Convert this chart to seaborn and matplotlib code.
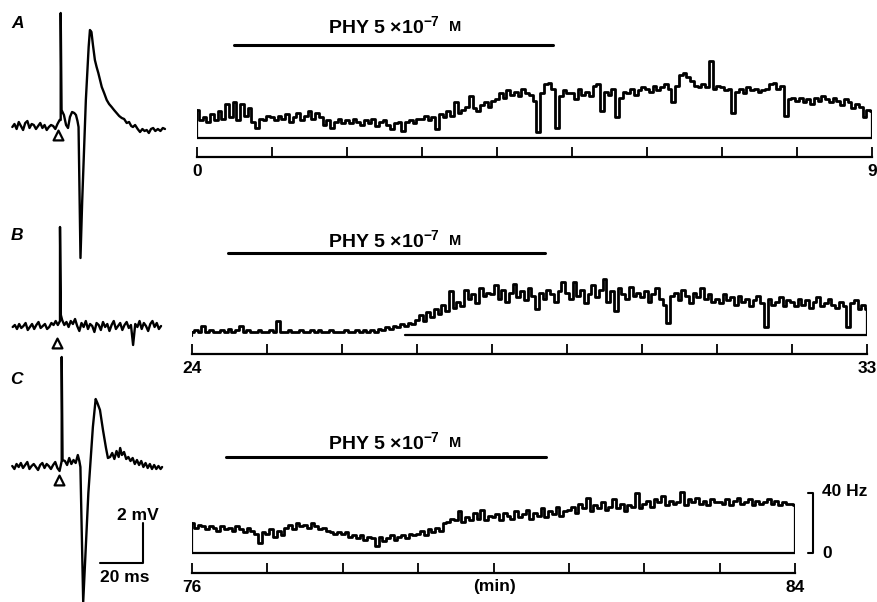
import numpy as np
import matplotlib
matplotlib.use("Agg")
import matplotlib.pyplot as plt
import seaborn as sns

# ---- data ----
# firing rate (Hz), one value every 0.05 min
rate_step = 0.05
rate_a_start = 0
rate_a = [19, 12, 14, 11, 16, 12, 18, 13, 23, 14, 24, 12, 23, 15, 20, 11, 7, 13, 12, 15,
          14, 12, 15, 13, 16, 11, 14, 17, 12, 15, 18, 13, 17, 14, 9, 12, 7, 11, 13, 10,
          12, 10, 13, 11, 9, 12, 10, 13, 8, 11, 12, 9, 6, 10, 11, 5, 11, 12, 10, 13,
          13, 15, 12, 14, 6, 16, 14, 18, 15, 24, 17, 19, 21, 28, 20, 18, 22, 24, 21, 25,
          26, 30, 27, 32, 29, 31, 28, 33, 30, 29, 25, 4, 30, 36, 37, 33, 7, 28, 32, 30,
          30, 26, 33, 29, 31, 28, 35, 36, 18, 31, 29, 33, 14, 27, 31, 30, 33, 29, 32, 34,
          33, 31, 35, 32, 34, 36, 33, 24, 35, 42, 43, 41, 38, 35, 34, 36, 34, 51, 33, 35,
          34, 32, 33, 17, 31, 33, 30, 34, 32, 33, 31, 32, 33, 36, 37, 33, 35, 15, 26, 27,
          25, 27, 24, 26, 23, 27, 25, 28, 26, 24, 27, 25, 22, 26, 24, 20, 23, 21, 14, 19, 18]
rate_b_start = 24
rate_b = [2, 3, 2, 6, 2, 3, 2, 2, 3, 2, 4, 2, 3, 6, 2, 3, 2, 2, 3, 2,
          2, 3, 2, 9, 2, 2, 3, 2, 2, 3, 2, 2, 3, 2, 3, 2, 2, 3, 2, 2,
          2, 3, 2, 2, 3, 2, 3, 2, 3, 2, 4, 3, 5, 4, 6, 5, 7, 6, 8, 7,
          10, 13, 9, 15, 12, 17, 14, 20, 16, 29, 18, 22, 19, 30, 24, 27, 21, 31, 26, 28,
          27, 33, 24, 30, 22, 28, 34, 25, 29, 23, 31, 26, 17, 28, 24, 30, 27, 22, 29, 35,
          28, 24, 35, 26, 30, 21, 27, 33, 25, 30, 37, 22, 29, 16, 31, 27, 24, 32, 26, 28,
          25, 29, 22, 27, 31, 24, 20, 8, 26, 28, 23, 30, 26, 21, 28, 25, 31, 24, 27, 22,
          24, 21, 27, 23, 25, 20, 26, 22, 24, 19, 23, 26, 21, 5, 24, 20, 22, 25, 19, 23,
          22, 19, 24, 20, 23, 18, 22, 25, 19, 21, 24, 20, 18, 22, 19, 5, 21, 23, 17, 20, 17]
rate_c_start = 76
rate_c = [20, 17, 19, 18, 16, 18, 17, 15, 18, 16, 17, 15, 18, 16, 14, 17, 15, 13, 7, 14,
          13, 16, 11, 15, 12, 17, 19, 16, 20, 18, 19, 17, 20, 18, 16, 17, 15, 14, 13, 14,
          13, 14, 11, 12, 10, 12, 9, 11, 10, 5, 11, 8, 10, 12, 9, 11, 12, 10, 13, 12,
          13, 15, 12, 16, 14, 17, 15, 20, 21, 23, 22, 28, 21, 24, 22, 27, 23, 29, 22, 25,
          24, 26, 22, 27, 25, 23, 28, 24, 26, 29, 23, 27, 25, 30, 24, 28, 26, 31, 25, 28,
          29, 31, 27, 33, 30, 37, 28, 32, 30, 34, 29, 31, 36, 30, 33, 28, 32, 31, 40, 30,
          33, 35, 31, 36, 34, 38, 32, 35, 33, 34, 41, 32, 36, 34, 37, 33, 35, 32, 36, 34,
          34, 33, 36, 32, 35, 37, 33, 34, 36, 32, 35, 33, 34, 36, 33, 35, 32, 34, 33, 33, 32]

# minutes on each time axis (only ends are labelled)
time_a = list(range(0, 10))
time_b = list(range(24, 34))
time_c = list(range(76, 85))

# PHY 5x10^-7 M application (min)
drug_a = [0.5, 4.75]
drug_b = [24.48, 28.7]
drug_c = [76.45, 80.7]
baseline_from_b = 26.84
scale_hz = 40

# spike traces, ms after stimulus and mV
spike_a_pre = [0.0, 0.15, -0.1, 0.25, 0.05, -0.15, 0.2, 0.3, -0.05, 0.15, 0.1, -0.1,
               0.05, 0.2, -0.05, 0.1, -0.15, 0.0, 0.1, 0.05, -0.1, 0.15, 0.35]
spike_a_t = [0, 0, 0.4, 1.5, 2.5, 3.4, 4.3, 5.3, 6.3, 7.1, 7.8, 8.3, 9.2, 10.0, 11.7, 13.0,
             13.6, 14.3, 15.0, 15.9, 16.7, 17.5, 18.3, 19.1, 20.2, 21.4, 22.5, 23.7, 24.8,
             26.0, 27.2, 28.4, 29.5, 30.7, 31.8, 32.8, 33.6, 34.6, 35.8, 36.9, 38.0, 39.0,
             40.0, 41.0, 42.0, 43.0, 44.0, 45.2, 46.4, 47.5, 48.5]
spike_a_v = [0.35, 5.7, 0.85, 0.6, 0.1, -0.05, 0.5, 0.75, 0.7, 0.6, 0.3, 0.0, -6.55, -3.7,
             1.35, 4.0, 4.85, 4.75, 4.1, 3.35, 3.0, 2.7, 2.35, 2.0, 1.7, 1.35, 1.15, 1.0,
             0.85, 0.7, 0.55, 0.45, 0.4, 0.2, 0.25, 0.05, 0.0, 0.1, -0.1, -0.25, -0.1, -0.2,
             -0.15, -0.3, -0.1, -0.05, -0.2, -0.1, -0.2, -0.05, -0.1]
spike_b_pre = [0.0, 0.1, -0.1, 0.15, -0.05, 0.05, 0.2, -0.15, 0.0, 0.15, -0.1, 0.1, 0.25,
               -0.05, 0.05, 0.15, -0.1, 0.0, 0.2, 0.1, 0.3, 0.1]
spike_b_t = [0, 0, 0.4]
spike_b_v = [0.3, 5.0, 0.6]
spike_b_post = [0.35, 0.1, 0.25, 0.0, 0.3, 0.15, 0.4, 0.05, -0.2, 0.2,
                0.0, 0.3, -0.1, 0.15, 0.05, -0.25, 0.2, 0.1, -0.15, 0.25,
                0.0, 0.15, -0.2, 0.1, 0.3, -0.1, 0.05, 0.2, -0.15, 0.1,
                0.25, -0.05, 0.1, -0.9, 0.15, 0.0, 0.3, -0.1, 0.2, 0.05,
                -0.2, 0.15, 0.3, 0.0, 0.2, -0.1, 0.05]
spike_c_pre = [0.05, -0.1, 0.15, 0.0, 0.2, -0.05, 0.1, 0.25, -0.1, 0.05, 0.15, 0.0, -0.15,
               0.1, 0.2, -0.05, 0.15, 0.05, -0.1, 0.1, 0.25, -0.05, -0.2]
spike_c_t = [0, 0, 0.4, 1.5, 2.5, 3.5, 4.5, 5.5, 6.5, 7.5, 8.2, 8.7, 10.0, 12.4, 14.5, 15.8,
             16.6, 17.8, 19.2, 20.6, 21.5, 22.5, 23.5, 24.5, 25.5, 26.5, 27.2, 28.0, 29.0,
             30.0, 31.0, 32.0, 33.0, 34.0, 35.0, 36.0, 37.0, 38.0, 39.0, 40.0, 41.0, 42.0,
             43.0, 44.0, 45.0, 46.0, 46.7]
spike_c_v = [0.3, 5.5, 0.35, 0.3, 0.1, 0.45, 0.15, 0.35, 0.2, 0.6, 0.3, 0.0, -6.75, -1.3,
             2.0, 3.4, 3.2, 2.85, 1.85, 0.95, 0.45, 0.5, 0.7, 0.4, 0.8, 0.5, 0.95, 0.6, 0.75,
             0.4, 0.5, 0.3, 0.45, 0.15, 0.35, 0.1, 0.3, 0.0, 0.2, -0.05, 0.15, -0.1, 0.1,
             -0.1, 0.05, -0.1, 0.0]
stim_marker_v = [-0.4, -0.8, -0.67]
scale_ms, scale_mv = 20, 2

# ---- style ----
sns.set_style("white")
plt.rcParams["font.family"] = ["Liberation Sans", "DejaVu Sans"]
plt.rcParams["text.color"] = "black"
plt.rcParams["xtick.color"] = "black"
plt.rcParams["mathtext.fontset"] = "custom"
plt.rcParams["mathtext.rm"] = "Liberation Sans:bold"
plt.rcParams["mathtext.default"] = "rm"

W, H = 878, 602
fig = plt.figure(figsize=(W / 100, H / 100), dpi=100)
LW = 2.0


def px_axes(x0, y0, x1, y1):
    ax = fig.add_axes([x0 / W, 1 - y1 / H, (x1 - x0) / W, (y1 - y0) / H])
    ax.patch.set_alpha(0)
    return ax


def ftext(x, y, s, **kw):
    fig.text(x / W, 1 - y / H, s, color="black", **kw)


# spike panels: 2.15 px per ms, 20 px per mV
def spike_panel(y0, y1, stim_x, base_y, t, v, mark_v):
    ax = px_axes(0, y0, 190, y1)
    sns.lineplot(x=t, y=v, ax=ax, color="black", lw=1.7, sort=False, estimator=None)
    ax.scatter([-1.3], [mark_v], marker="^", s=50, facecolor="white",
               edgecolor="black", linewidth=1.6, zorder=3)
    ax.set_xlim(-stim_x / 2.15, (190 - stim_x) / 2.15)
    ax.set_ylim((base_y - y1) / 20, (base_y - y0) / 20)
    ax.axis("off")
    return ax


ta = list(np.arange(-22.5, 0, 1.0)) + spike_a_t
va = spike_a_pre + spike_a_v
spike_panel(0, 270, 60.7, 127, ta, va, stim_marker_v[0])

tb = list(np.arange(-22, 0, 1.0)) + spike_b_t + list(np.arange(1, 48, 1.0))
vb = spike_b_pre + spike_b_v + spike_b_post
spike_panel(200, 360, 60, 327, tb, vb, stim_marker_v[1])

tc = list(np.arange(-23, 0, 1.0)) + spike_c_t
vc = spike_c_pre + spike_c_v
axc = spike_panel(350, 602, 61.7, 467, tc, vc, stim_marker_v[2])
# scale bar
axc.plot([37.8 - scale_ms, 37.8, 37.8], [-4.8, -4.8, -4.8 + scale_mv],
         color="black", lw=1.5, clip_on=False)
ftext(138, 515, "2 mV", ha="center", va="center", fontsize=12.5, fontweight="bold")
ftext(125, 578, "20 ms", ha="center", va="center", fontsize=12.5, fontweight="bold")


# rate panels: 1.5 px per Hz
def rate_panel(x0, x1, y_top, base_y, axis_y, start, vals, ticks, drug, bar_y, title_y,
               base_from=None):
    ax = px_axes(x0, y_top, x1, axis_y)
    t = start + rate_step * np.arange(len(vals))
    sns.lineplot(x=t, y=vals, ax=ax, color="black", lw=LW, drawstyle="steps-mid",
                 estimator=None)
    t0, t1 = ticks[0], ticks[-1]
    if base_from is None:
        ax.plot([t0, t0, t1, t1], [vals[0], 0, 0, vals[-1]], color="black", lw=1.6)
    else:
        ax.plot([t0, t0], [vals[0], -1], color="black", lw=1.6)
        ax.plot([base_from, t1, t1], [0, 0, vals[-1]], color="black", lw=1.6)
    ax.set_xlim(t0, t1)
    ax.set_ylim((base_y - axis_y) / 1.5, (base_y - y_top) / 1.5)
    # drug bar
    ax.plot(drug, [(base_y - bar_y) / 1.5] * 2, color="black", lw=2.2, clip_on=False)
    ftext(440, title_y, "PHY 5 \u00d710$^{-7}$", ha="right", va="center",
          fontsize=14, fontweight="bold")
    ftext(449, title_y + 1, "M", ha="left", va="center", fontsize=10.5, fontweight="bold")
    # time axis
    for s in ["left", "top", "right"]:
        ax.spines[s].set_visible(False)
    ax.spines["bottom"].set_linewidth(1.6)
    ax.spines["bottom"].set_color("black")
    ax.set_xticks(ticks)
    ax.set_xticklabels([str(ticks[0])] + [""] * (len(ticks) - 2) + [str(ticks[-1])],
                       fontweight="bold", fontsize=12.5)
    ax.tick_params(axis="x", direction="in", length=7, width=1.3, pad=5,
                   bottom=True, colors="black")
    ax.set_yticks([])
    ax.set(xlabel="", ylabel="")
    return ax


rate_panel(197, 872, 50, 138, 157, rate_a_start, rate_a, time_a, drug_a, 45, 26)
rate_panel(192, 867, 260, 335, 354, rate_b_start, rate_b, time_b, drug_b, 253, 240,
           base_from=baseline_from_b)
axr = rate_panel(192, 795, 470, 553, 573, rate_c_start, rate_c, time_c, drug_c, 457, 442)

# 40 Hz calibration
xb = 84.24
axr.plot([xb - 0.07, xb, xb, xb - 0.07], [scale_hz, scale_hz, 0, 0], color="black",
         lw=1.5, clip_on=False)
ftext(822, 492, "40 Hz", ha="left", va="center", fontsize=12.5, fontweight="bold")
ftext(822, 553, "0", ha="left", va="center", fontsize=12.5, fontweight="bold")
ftext(495, 587, "(min)", ha="center", va="center", fontsize=12.5, fontweight="bold")

# panel letters
for lab, (x, y) in zip("ABC", [(18, 24), (17, 236), (16, 380)]):
    ftext(x, y, lab, ha="center", va="center", fontsize=12.5, style="italic",
          fontweight="bold")

fig.savefig("out.png", dpi=100)
